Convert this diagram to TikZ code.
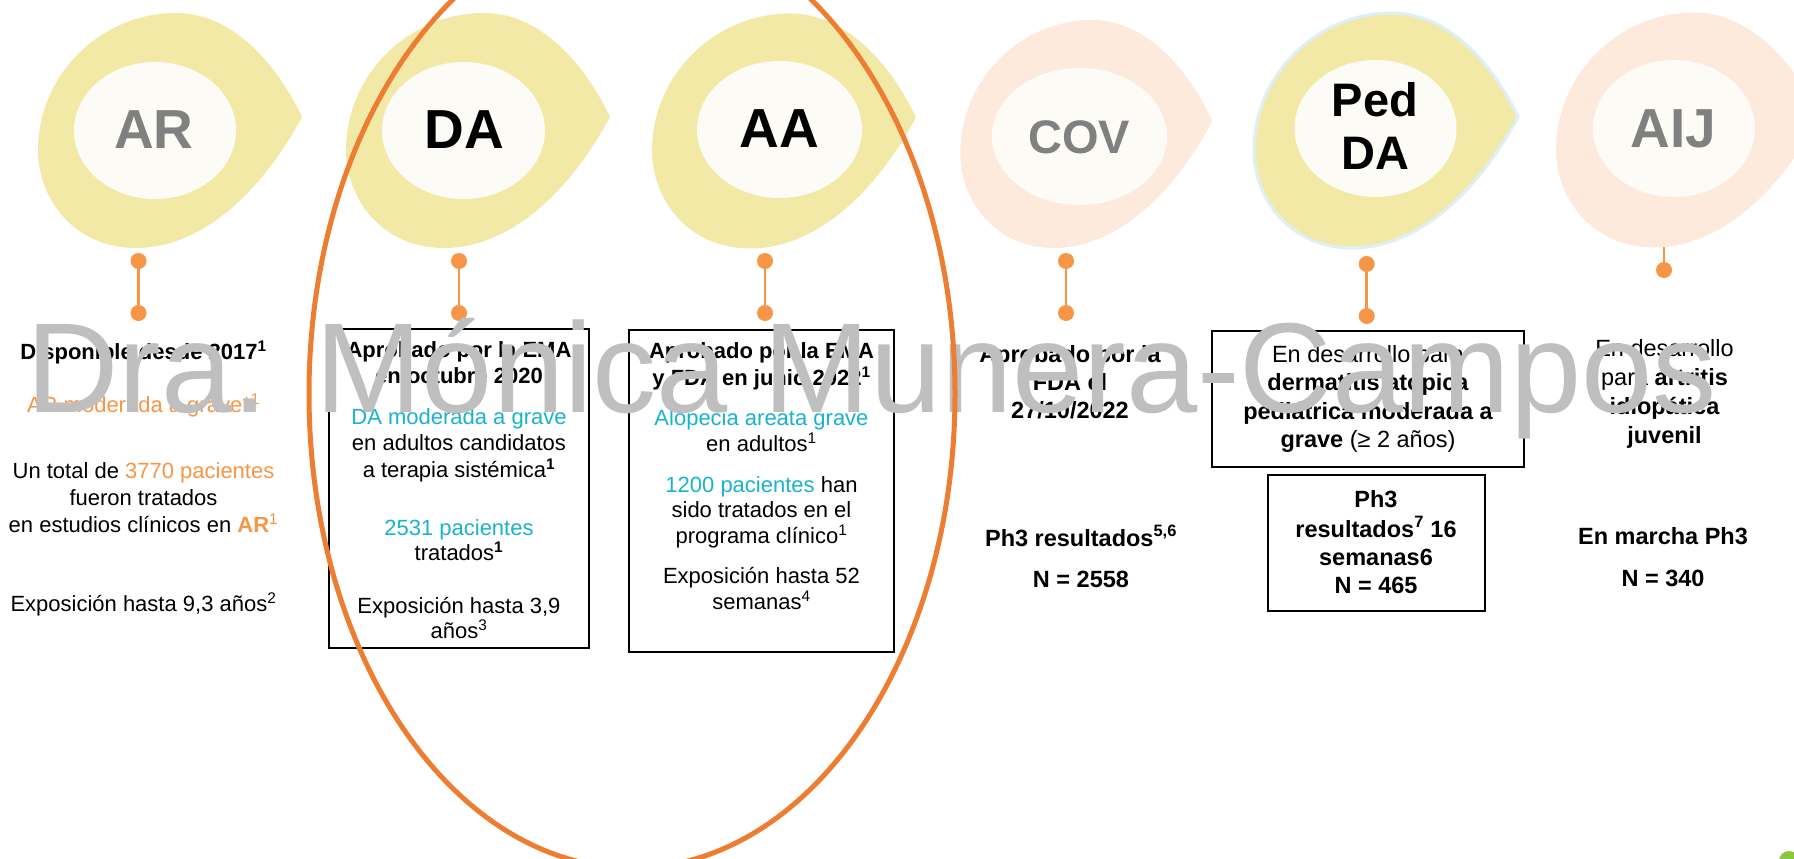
\documentclass[tikz,border=0pt]{standalone}
\usepackage{fontspec}
\setmainfont{Liberation Sans}
\definecolor{blobyellow}{HTML}{F3E9A6}
\definecolor{blobpeach}{HTML}{FDEADC}
\definecolor{innerwhite}{HTML}{FCFBF6}
\definecolor{lolli}{HTML}{F79646}
\definecolor{ringorange}{HTML}{ED7D31}
\definecolor{cyantxt}{HTML}{1AB3CF}
\definecolor{orangetxt}{HTML}{F79646}
\definecolor{graytxt}{HTML}{808080}
\definecolor{wmgray}{HTML}{BFBFBF}
\definecolor{pedblue}{HTML}{DDEFF9}
\definecolor{leafgreen}{HTML}{8CC63F}
\newcommand\blobshape{(147,-13.5) .. controls (120,-70.5) and (75,-117.5) .. (21,-117.5) .. controls (-55,-117.5) and (-117,-55) .. (-117,19.5) .. controls (-117,69.5) and (-80,117.5) .. (-19,117.5) .. controls (45,117.5) and (105,64.5) .. cycle}
\begin{document}
\begin{tikzpicture}[x=1pt,y=-1pt,
  title/.style={anchor=base, inner sep=0pt, font=\bfseries\fontsize{55}{60}\selectfont},
  titlesm/.style={anchor=base, inner sep=0pt, font=\bfseries\fontsize{47}{52}\selectfont},
  dot/.style={circle, fill=lolli, inner sep=0pt, minimum size=16pt},
  stem/.style={draw=lolli, line width=2.5pt},
  box/.style={draw=black, line width=2.5pt, inner sep=0pt},
  ln/.style={anchor=base, inner sep=0pt, font=\fontsize{22}{26}\selectfont},
  lnR/.style={anchor=base, inner sep=0pt, font=\fontsize{23.5}{28}\selectfont},
  cy/.style={text=cyantxt},
  or/.style={text=orangetxt}]
\useasboundingbox (0,0) rectangle (1794,859);
\clip (0,0) rectangle (1794,859);
\fill[white] (0,0) rectangle (1794,859);

% blobs
\fill[blobyellow, shift={(155,130.5)}] \blobshape;
\fill[blobyellow, shift={(463,130.5)}] \blobshape;
\fill[blobyellow, shift={(769,131)}] \blobshape;
\fill[blobpeach, shift={(1072,134)}, xscale=0.955, yscale=0.97] \blobshape;
\filldraw[fill=blobyellow, draw=pedblue, line width=3pt, shift={(1371,130.5)}] \blobshape;
\fill[blobpeach, shift={(1673,130)}] \blobshape;

% inner ellipses
\fill[innerwhite] (155,130.5) ellipse [x radius=81, y radius=68.5];
\fill[innerwhite] (463.5,130.5) ellipse [x radius=81.5, y radius=68.5];
\fill[innerwhite] (779.5,129.5) ellipse [x radius=82.5, y radius=68.5];
\fill[innerwhite] (1079.5,136.5) ellipse [x radius=87.5, y radius=68.5];
\fill[innerwhite] (1375.5,128.5) ellipse [x radius=81, y radius=68.5];
\fill[innerwhite] (1674,128.5) ellipse [x radius=81, y radius=68.5];

% titles
\node[title, text=graytxt] (tAR) at (154,148) {AR};
\node[title] (tDA) at (464.5,148) {DA};
\node[title] (tAA) at (779.5,147) {AA};
\node[titlesm, text=graytxt] (tCOV) at (1079,153) {COV};
\node[titlesm] (tPed) at (1375,117) {Ped};
\node[titlesm] (tPedDA) at (1375,169) {DA};
\node[title, text=graytxt] (tAIJ) at (1673.5,147) {AIJ};

% lollipops
\node[dot] (arTop) at (138.5,261) {};
\node[dot] (arBot) at (138.5,313) {};
\draw[stem] (arTop) -- (arBot);
\node[dot] (daTop) at (459,261) {};
\node[dot] (daBot) at (459,313) {};
\draw[stem] (daTop) -- (daBot);
\node[dot] (aaTop) at (765,261) {};
\node[dot] (aaBot) at (765,313) {};
\draw[stem] (aaTop) -- (aaBot);
\node[dot] (covTop) at (1066,261) {};
\node[dot] (covBot) at (1066,313) {};
\draw[stem] (covTop) -- (covBot);
\node[dot] (pedTop) at (1366.7,264) {};
\node[dot] (pedBot) at (1366.7,316) {};
\draw[stem] (pedTop) -- (pedBot);
\coordinate (aijStem) at (1664,247);
\node[dot] (aijDot) at (1664,270) {};
\draw[stem] (aijStem) -- (aijDot);

% boxes
\node[box, minimum width=260pt, minimum height=319pt] (daBox) at (459,488.5) {};
\node[box, minimum width=265pt, minimum height=322pt] (aaBox) at (761.5,491) {};
\node[box, minimum width=312pt, minimum height=136pt] (pedBox) at (1368,399) {};
\node[box, minimum width=217pt, minimum height=136pt] (phBox) at (1376.5,543) {};

% AR column
\node[ln, font=\bfseries\fontsize{22}{26}\selectfont] (ar1) at (143.5,359) {Disponible desde 2017\textsuperscript{1}};
\node[ln, or] (ar2) at (143.5,412) {AR moderada a grave*\textsuperscript{1}};
\node[ln] (ar3) at (143.5,478) {Un total de \textcolor{orangetxt}{3770 pacientes}};
\node[ln] (ar4) at (143.5,505) {fueron tratados};
\node[ln] (ar5) at (143.5,532) {en estudios clínicos en \textcolor{orangetxt}{\textbf{AR}\textsuperscript{1}}};
\node[ln] (ar6) at (143.5,611) {Exposición hasta 9,3 años\textsuperscript{2}};

% DA box
\node[ln, font=\bfseries\fontsize{22}{26}\selectfont] (da1) at (459,357) {Aprobado por la EMA};
\node[ln, font=\bfseries\fontsize{22}{26}\selectfont] (da2) at (459,383) {en octubre 2020};
\node[ln, cy] (da3) at (459,424) {DA moderada a grave};
\node[ln] (da4) at (459,450) {en adultos candidatos};
\node[ln] (da5) at (459,477) {a terapia sistémica\textsuperscript{\textbf{1}}};
\node[ln, cy] (da6) at (459,535) {2531 pacientes};
\node[ln] (da7) at (459,560) {tratados\textsuperscript{\textbf{1}}};
\node[ln] (da8) at (459,613) {Exposición hasta 3,9};
\node[ln] (da9) at (459,638) {años\textsuperscript{3}};

% AA box
\node[ln, font=\bfseries\fontsize{22}{26}\selectfont] (aa1) at (761.5,358) {Aprobado por la EMA};
\node[ln, font=\bfseries\fontsize{22}{26}\selectfont] (aa2) at (761.5,385) {y FDA en junio 2022\textsuperscript{1}};
\node[ln, cy] (aa3) at (761.5,425) {Alopecia areata grave};
\node[ln] (aa4) at (761.5,451) {en adultos\textsuperscript{1}};
\node[ln] (aa5) at (761.5,492) {\textcolor{cyantxt}{1200 pacientes} han};
\node[ln] (aa6) at (761.5,517) {sido tratados en el};
\node[ln] (aa7) at (761.5,543) {programa clínico\textsuperscript{1}};
\node[ln] (aa8) at (761.5,583) {Exposición hasta 52};
\node[ln] (aa9) at (761.5,609) {semanas\textsuperscript{4}};

% COV column
\node[lnR, font=\bfseries\fontsize{23.5}{28}\selectfont] (cov1) at (1070,362) {Aprobado por la};
\node[lnR, font=\bfseries\fontsize{23.5}{28}\selectfont] (cov2) at (1070,390) {FDA el};
\node[lnR, font=\bfseries\fontsize{23.5}{28}\selectfont] (cov3) at (1070,418) {27/10/2022};
\node[lnR, font=\bfseries\fontsize{23.5}{28}\selectfont] (cov4) at (1081,546) {Ph3 resultados\textsuperscript{5,6}};
\node[lnR, font=\bfseries\fontsize{23.5}{28}\selectfont] (cov5) at (1081,587) {N = 2558};

% Ped DA boxes
\node[lnR] (ped1) at (1368,362) {En desarrollo para};
\node[lnR, font=\bfseries\fontsize{23.5}{28}\selectfont] (ped2) at (1368,390) {dermatitis atópica};
\node[lnR, font=\bfseries\fontsize{23.5}{28}\selectfont] (ped3) at (1368,419) {pediátrica moderada a};
\node[lnR] (ped4) at (1368,447) {\textbf{grave} (≥ 2 años)};
\node[lnR, font=\bfseries\fontsize{23.5}{28}\selectfont] (ph1) at (1376,507) {Ph3};
\node[lnR, font=\bfseries\fontsize{23.5}{28}\selectfont] (ph2) at (1376,537) {resultados\textsuperscript{7} 16};
\node[lnR, font=\bfseries\fontsize{23.5}{28}\selectfont] (ph3) at (1376,565) {semanas6};
\node[lnR, font=\bfseries\fontsize{23.5}{28}\selectfont] (ph4) at (1376,593) {N = 465};

% AIJ column
\node[lnR] (aij1) at (1664.5,356) {En desarrollo};
\node[lnR] (aij2) at (1664.5,385) {para \textbf{artritis}};
\node[lnR, font=\bfseries\fontsize{23.5}{28}\selectfont] (aij3) at (1664.5,414) {idiopática};
\node[lnR, font=\bfseries\fontsize{23.5}{28}\selectfont] (aij4) at (1664.5,443) {juvenil};
\node[lnR, font=\bfseries\fontsize{23.5}{28}\selectfont] (aij5) at (1663,544) {En marcha Ph3};
\node[lnR, font=\bfseries\fontsize{23.5}{28}\selectfont] (aij6) at (1663,586) {N = 340};

% watermark
\node[anchor=base, inner sep=0pt, text=wmgray, font=\fontsize{128}{140}\selectfont] (wm) at (871.5,412) {Dra. Mónica Munera-Campos};

% orange ring
\draw[ringorange, line width=5pt] (632,394) ellipse [x radius=323, y radius=474];

% leaf corner
\fill[leafgreen] (1789,861) circle [radius=10];
\end{tikzpicture}
\end{document}
